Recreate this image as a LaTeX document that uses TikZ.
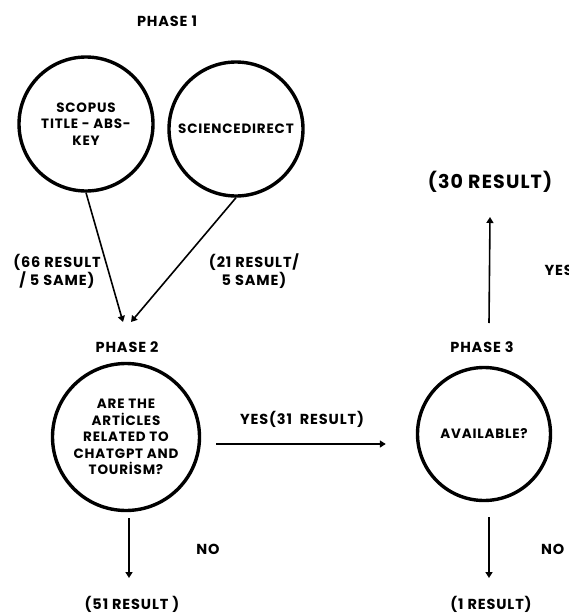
\documentclass[tikz,border=0pt]{standalone}
\usepackage{fontspec}
\setmainfont{Poppins}[LetterSpace=6]
\usepackage{tikz}
\usetikzlibrary{arrows.meta}
\usetikzlibrary{positioning}

\tikzset{
    phase/.style={font=\bfseries\fontsize{14.5}{16}\selectfont},
    stage/.style={circle, draw, line width=3.4pt, inner sep=0pt, align=center,
        font=\bfseries\fontsize{13.5}{16.5}\selectfont},
    count/.style={align=center, font=\bfseries\fontsize{14.5}{16}\selectfont},
    flow/.style={-{Triangle[length=6pt,width=7pt]}, line width=1.6pt}
}

\begin{document}
\begin{tikzpicture}[x=1pt, y=-1pt, every node/.style={align=center}]
    \useasboundingbox (0,0) rectangle (568,613);

    % Phase 1: the two databases
    \node[phase] (lbl1) at (167,21) {PHASE 1};
    \node[stage, minimum size=134pt] (scopus) at (86,124) {SCOPUS\\TITLE - ABS-\\KEY};
    \node[stage, minimum size=134pt] (sdirect) at (236,129) {SCIENCEDIRECT};
    \node[count] (cnt66) at (57,271) {(66 RESULT\\/ 5 SAME)};
    \node[count] (cnt21) at (254,271) {(21 RESULT/\\5 SAME)};
    \coordinate (into2a) at (123,322);
    \coordinate (into2b) at (131,322);
    \draw[flow] (scopus.south) -- (into2a);
    \draw[flow] (sdirect.south) -- (into2b);

    % Phase 2: topic check
    \node[phase] (lbl2) at (127,347) {PHASE 2};
    \node[stage, minimum size=147pt] (topic) at (126,437) {ARE THE\\ART\.ICLES\\RELATED TO\\CHATGPT AND\\TOUR\.ISM?};
    \node[count] (yes31) at (302,419) {YES(31\ \ RESULT)};
    \node[count] (no1) at (208,549) {NO};
    \node[count] (res51) at (132,604) {(51 RESULT )};
    \draw[flow] ([xshift=3pt,yshift=-6pt]topic.south) -- ([xshift=-3pt,yshift=26pt]res51.center);

    % Phase 3: availability check
    \node[phase] (lbl3) at (482,347) {PHASE 3};
    \node[stage, minimum size=133pt] (avail) at (484,434) {AVAILABLE?};
    \draw[flow] ([xshift=15pt,yshift=-7pt]topic.east) -- ([xshift=-30pt,yshift=-10pt]avail.west);
    \node[count, font=\bfseries\fontsize{19}{21}\selectfont] (res30) at (490,182) {(30 RESULT)};
    \node[count, anchor=west] (yes2) at (541,270) {YES};
    \draw[flow] ([xshift=7pt,yshift=24pt]lbl3.center) -- ([yshift=-35pt]res30.center);
    \node[count, anchor=west, inner xsep=0pt] (no2) at (541,549) {NO};
    \node[count] (res1) at (491,604) {(1 RESULT)};
    \draw[flow] ([xshift=5pt,yshift=-15pt]avail.south) -- ([xshift=-2pt,yshift=26pt]res1.center);
\end{tikzpicture}
\end{document}
